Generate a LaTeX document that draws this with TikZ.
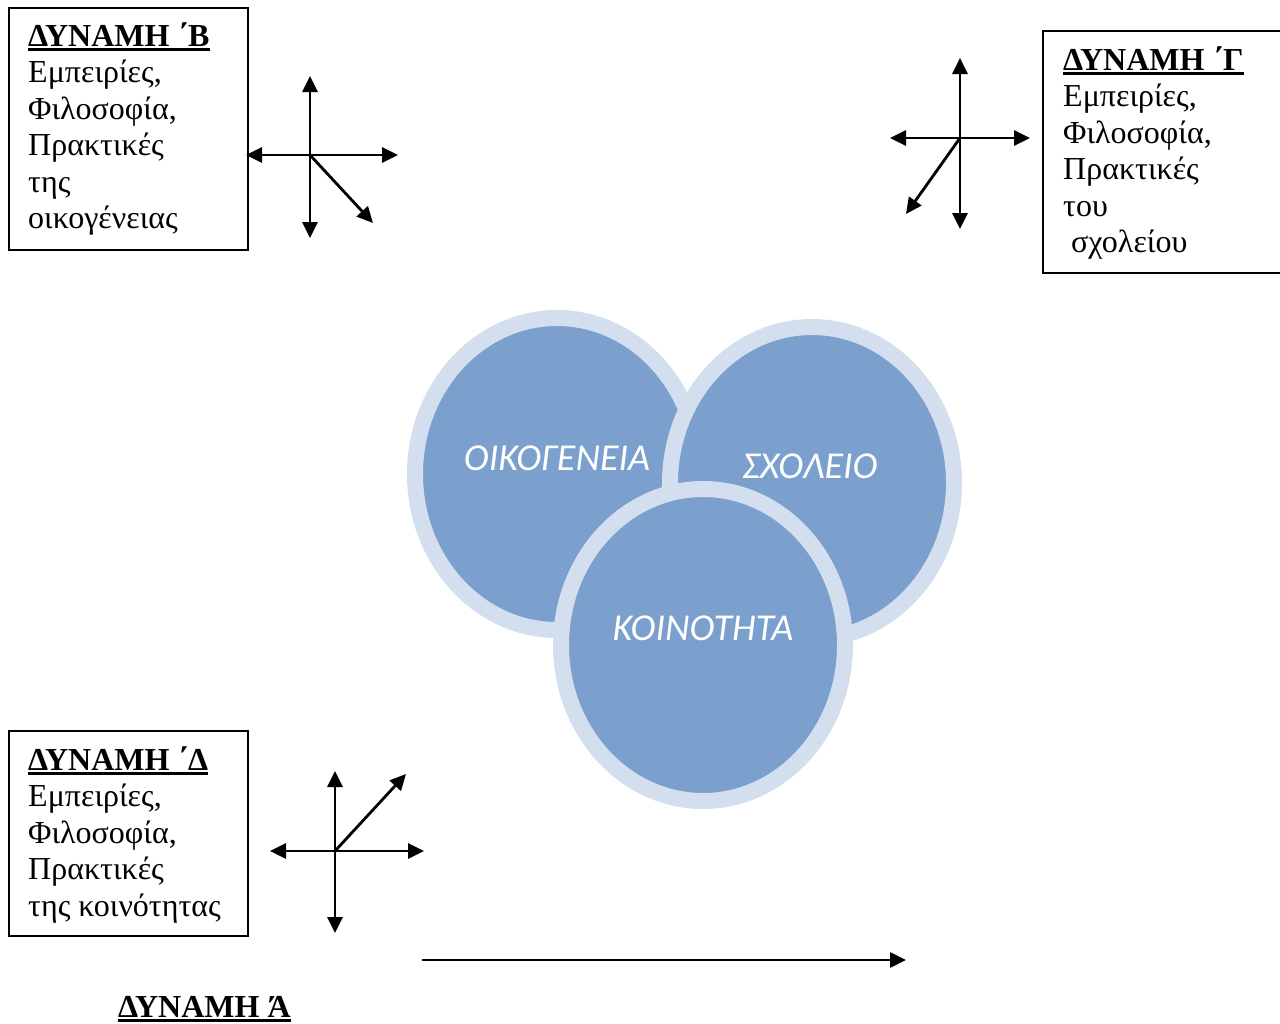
\documentclass[tikz,border=0pt]{standalone}
\usepackage{fontspec}
\setmainfont{Liberation Serif}
\newfontfamily\calfont{Carlito}
\usetikzlibrary{arrows.meta,shapes.geometric}
\definecolor{ringc}{RGB}{211,222,238}
\definecolor{fillc}{RGB}{123,160,205}
\newcommand\ulttl[1]{\setbox0\hbox{\bfseries #1}\rlap{\rule[-4.5pt]{\wd0}{2.8pt}}\box0}
\begin{document}
\begin{tikzpicture}[x=1pt,y=-1pt,
  box/.style={draw, line width=1.8pt, inner sep=0pt, anchor=north west},
  txt/.style={anchor=north west, inner sep=0pt, align=left, font=\fontsize{32}{36.5}\selectfont},
  arr/.style={line width=2.8pt, -{Triangle[length=16pt,width=15pt]}},
  ring/.style={ellipse, fill=fillc, draw=ringc, line width=16pt, inner sep=0pt, minimum width=284pt, minimum height=312pt},
  lbl/.style={text=white, inner sep=0pt, font=\calfont\itshape\fontsize{38}{44}\selectfont}]
\useasboundingbox (0,0) rectangle (1280,1023);

% boxes
\node[box, minimum width=239pt, minimum height=242pt] (boxB) at (8,7) {};
\node[box, minimum width=240pt, minimum height=242pt] (boxG) at (1042,30) {};
\node[box, minimum width=239pt, minimum height=205pt] (boxD) at (8,730) {};

\node[txt] (tB) at (28,22) {\ulttl{ΔΥΝΑΜΗ ΄Β}\rule{0pt}{24pt}\\Εμπειρίες,\\Φιλοσοφία,\\Πρακτικές\\της\\οικογένειας};
\node[txt] (tG) at (1063,46) {\ulttl{ΔΥΝΑΜΗ ΄Γ}\rule{0pt}{24pt}\\Εμπειρίες,\\Φιλοσοφία,\\Πρακτικές\\του\\\hspace*{8pt}σχολείου};
\node[txt] (tD) at (28,746) {\ulttl{ΔΥΝΑΜΗ ΄Δ}\rule{0pt}{24pt}\\Εμπειρίες,\\Φιλοσοφία,\\Πρακτικές\\της κοινότητας};
\node[anchor=base west, inner sep=0pt, font=\fontsize{32}{36.5}\selectfont] (tA) at (118,1017) {\ulttl{ΔΥΝΑΜΗ Ά}};

% cross B
\coordinate (cB) at (310,155);
\coordinate (cBu) at (310,76);
\coordinate (cBd) at (310,238);
\coordinate (cBl) at (246,155);
\coordinate (cBr) at (398,155);
\coordinate (cBx) at (373,223);
\draw[arr] (cB) -- (cBu);
\draw[arr] (cB) -- (cBd);
\draw[arr] (cB) -- (cBl);
\draw[arr] (cB) -- (cBr);
\draw[arr] (cB) -- (cBx);

% cross G
\coordinate (cG) at (960,138);
\coordinate (cGu) at (960,58);
\coordinate (cGd) at (960,229);
\coordinate (cGl) at (890,138);
\coordinate (cGr) at (1030,138);
\coordinate (cGx) at (906,214);
\draw[arr] (cG) -- (cGu);
\draw[arr] (cG) -- (cGd);
\draw[arr] (cG) -- (cGl);
\draw[arr] (cG) -- (cGr);
\draw[arr] (cG) -- (cGx);

% cross D
\coordinate (cD) at (335,851);
\coordinate (cDu) at (335,771);
\coordinate (cDd) at (335,933);
\coordinate (cDl) at (270,851);
\coordinate (cDr) at (424,851);
\coordinate (cDx) at (406,774);
\draw[arr] (cD) -- (cDu);
\draw[arr] (cD) -- (cDd);
\draw[arr] (cD) -- (cDl);
\draw[arr] (cD) -- (cDr);
\draw[arr] (cD) -- (cDx);

% bottom arrow
\coordinate (aS) at (422,960);
\coordinate (aE) at (906,960);
\draw[arr] (aS) -- (aE);

% ellipses
\node[ring] (fam) at (557,474) {};
\node[ring] (sch) at (812,483) {};
\node[ring] (com) at (703,645) {};
\node[lbl] (lfam) at (557,458) {ΟΙΚΟΓΕΝΕΙΑ};
\node[lbl] (lsch) at (810,466) {ΣΧΟΛΕΙΟ};
\node[lbl] (lcom) at (703,628) {ΚΟΙΝΟΤΗΤΑ};
\end{tikzpicture}
\end{document}
